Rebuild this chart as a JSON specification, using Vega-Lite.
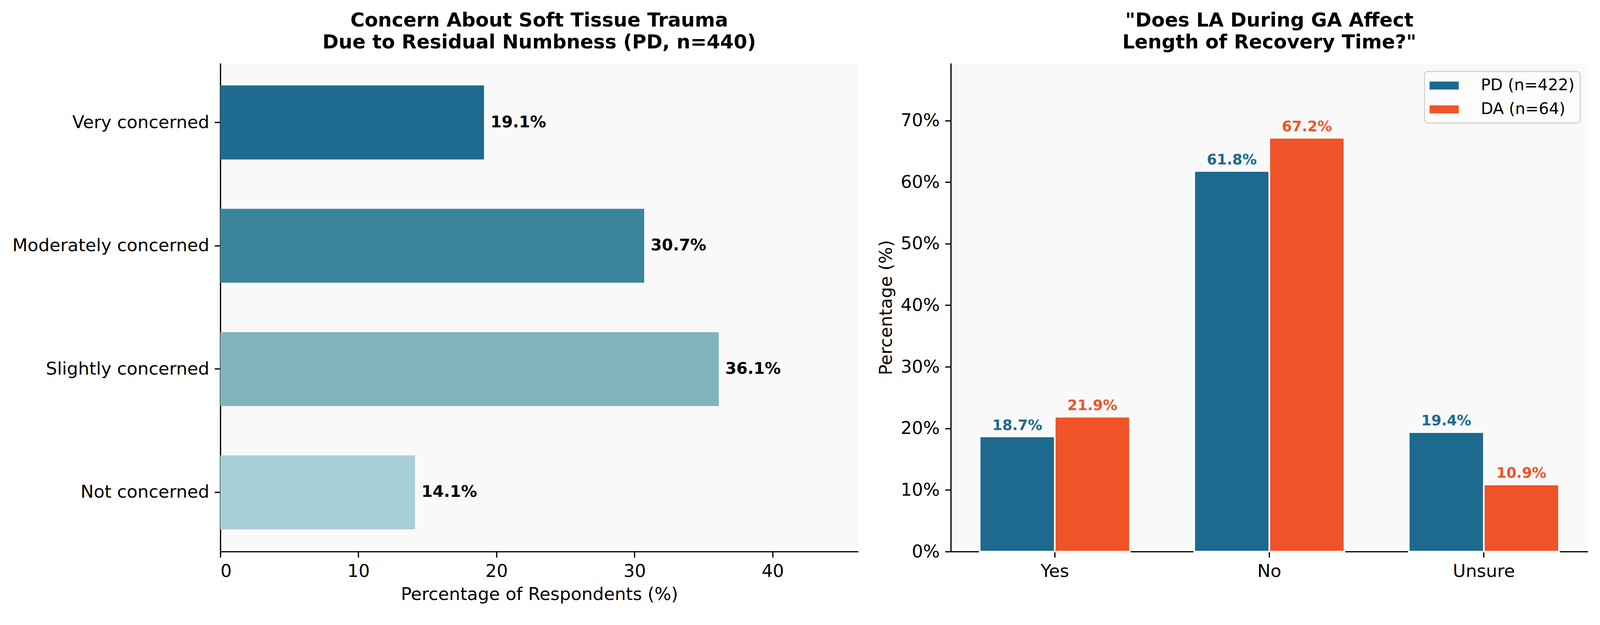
{
  "$schema": "https://vega.github.io/schema/vega-lite/v6.json",
  "padding": {"left": 31, "top": 27, "right": 28, "bottom": 30},
  "background": "white",
  "spacing": 237,
  "bounds": "flush",
  "resolve": {"scale": {"color": "independent"}, "legend": {"color": "independent"}},
  "config": {
    "font": "DejaVu Sans",
    "view": {"fill": "#f9f9f9", "stroke": null},
    "axis": {
      "domainColor": "black", "domainWidth": 3.2, "tickColor": "black", "tickWidth": 3.2, "tickSize": 14.8,
      "labelFont": "DejaVu Sans", "labelFontSize": 45.1, "labelColor": "black", "labelPadding": 13.8, "labelLimit": 2000,
      "titleFont": "DejaVu Sans", "titleFontSize": 45.1, "titleFontWeight": "normal", "titleColor": "black",
      "grid": false
    },
    "legend": {"strokeWidth": 3},
    "title": {"font": "DejaVu Sans", "fontSize": 49.7, "fontWeight": "bold", "color": "black", "lineHeight": 56.1, "offset": 27.6, "anchor": "middle"}
  },
  "hconcat": [
    {
      "width": 1633,
      "height": 1250,
      "title": {"text": ["Concern About Soft Tissue Trauma", "Due to Residual Numbness (PD, n=440)"]},
      "data": {"values": [
        {"level": "Very concerned", "pct": 19.1, "label": "19.1%"},
        {"level": "Moderately concerned", "pct": 30.7, "label": "30.7%"},
        {"level": "Slightly concerned", "pct": 36.1, "label": "36.1%"},
        {"level": "Not concerned", "pct": 14.1, "label": "14.1%"}
      ]},
      "encoding": {
        "y": {"field": "level", "type": "nominal", "sort": ["Very concerned", "Moderately concerned", "Slightly concerned", "Not concerned"],
              "scale": {"paddingInner": 0.4, "paddingOuter": 0.18}, "axis": {"title": null}},
        "x": {"field": "pct", "type": "quantitative", "scale": {"domain": [0, 46.2], "nice": false},
              "axis": {"values": [0, 10, 20, 30, 40], "title": "Percentage of Respondents (%)", "titlePadding": 13.8}}
      },
      "layer": [
        {"mark": {"type": "bar"},
         "encoding": {"color": {"field": "level", "type": "nominal",
           "scale": {"domain": ["Very concerned", "Moderately concerned", "Slightly concerned", "Not concerned"],
                     "range": ["#1e6a8f", "#3b859c", "#80b5bd", "#a8cfd6"]}, "legend": null}}},
        {"mark": {"type": "text", "align": "left", "baseline": "middle", "dx": 16.7, "fontSize": 41, "fontWeight": "bold", "color": "black"},
         "encoding": {"text": {"field": "label"}}}
      ]
    },
    {
      "width": 1631,
      "height": 1250,
      "title": {"text": ["\"Does LA During GA Affect", "Length of Recovery Time?\""]},
      "data": {"values": [
        {"answer": "Yes", "group": "PD (n=422)", "pct": 18.7, "label": "18.7%"},
        {"answer": "Yes", "group": "DA (n=64)", "pct": 21.9, "label": "21.9%"},
        {"answer": "No", "group": "PD (n=422)", "pct": 61.8, "label": "61.8%"},
        {"answer": "No", "group": "DA (n=64)", "pct": 67.2, "label": "67.2%"},
        {"answer": "Unsure", "group": "PD (n=422)", "pct": 19.4, "label": "19.4%"},
        {"answer": "Unsure", "group": "DA (n=64)", "pct": 10.9, "label": "10.9%"}
      ]},
      "encoding": {
        "x": {"field": "answer", "type": "nominal", "sort": ["Yes", "No", "Unsure"],
              "scale": {"paddingInner": 0.3, "paddingOuter": 0.135}, "axis": {"title": null, "labelAngle": 0}},
        "xOffset": {"field": "group", "type": "nominal", "sort": ["PD (n=422)", "DA (n=64)"],
                    "scale": {"paddingInner": 0, "paddingOuter": 0}},
        "y": {"field": "pct", "type": "quantitative", "scale": {"domain": [0, 79.3], "nice": false},
              "axis": {"values": [0, 10, 20, 30, 40, 50, 60, 70], "labelExpr": "datum.value + '%'", "title": "Percentage (%)", "titlePadding": 13.8}},
        "color": {"field": "group", "type": "nominal", "sort": ["PD (n=422)", "DA (n=64)"],
                  "scale": {"domain": ["PD (n=422)", "DA (n=64)"], "range": ["#1e6a8f", "#f05327"]},
                  "legend": {"title": null, "orient": "top-right", "offset": 20.5,
                             "symbolType": "M-1.265,-0.615H2.67V0.615H-1.265Z", "symbolSize": 1600,
                             "symbolStrokeColor": "white", "symbolStrokeWidth": 3.9, "symbolOpacity": 1,
                             "labelFont": "DejaVu Sans", "labelFontSize": 41, "labelColor": "black", "labelOffset": 85.9, "labelLimit": 1000,
                             "rowPadding": 18, "padding": 14,
                             "strokeColor": "#d4d4d4", "cornerRadius": 7.9, "fillColor": "#fcfcfc"}}
      },
      "layer": [
        {"mark": {"type": "bar", "stroke": "white", "strokeWidth": 3.9}},
        {"mark": {"type": "text", "baseline": "alphabetic", "dy": -16.7, "fontSize": 36.9, "fontWeight": "bold"},
         "encoding": {"text": {"field": "label"}}}
      ]
    }
  ]
}
